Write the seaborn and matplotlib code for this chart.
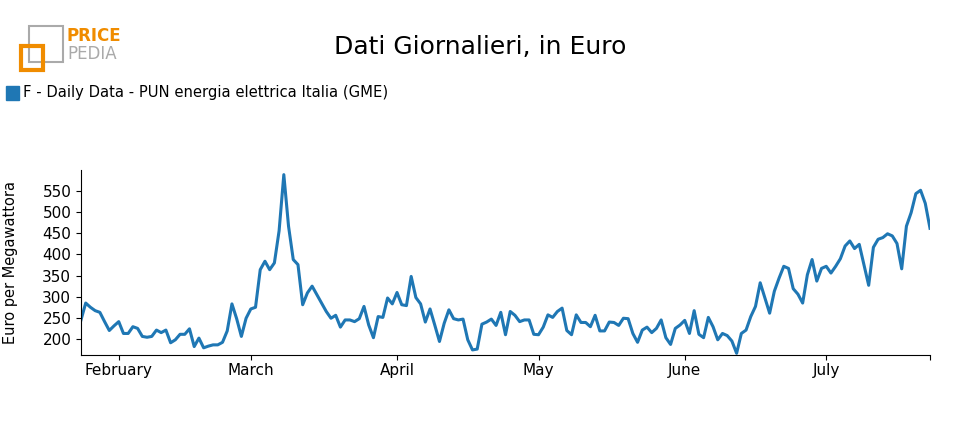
import numpy as np
import pandas as pd
import matplotlib
matplotlib.use("Agg")
import matplotlib.pyplot as plt
import matplotlib.dates as mdates
from matplotlib.patches import Rectangle
import seaborn as sns

start_date = "2022-01-24"
values = [245,285,275,267,263,241,220,231,241,213,213,229,225,206,204,206,221,215,221,191,
          198,211,211,224,182,202,179,183,186,186,192,219,283,248,206,249,271,275,364,384,
          364,380,456,589,467,388,376,281,309,325,305,285,265,249,256,228,245,245,241,248,
          277,233,203,253,251,297,283,310,281,279,348,298,283,240,271,233,194,237,269,248,
          245,247,198,174,176,235,240,247,232,263,210,265,256,241,245,245,211,210,228,257,
          251,265,273,220,210,257,239,239,229,256,219,219,240,239,232,249,248,213,192,221,
          228,215,225,245,203,187,225,233,244,213,267,211,203,251,229,198,213,208,195,166,
          213,221,253,277,333,297,261,313,344,372,367,319,306,285,352,388,337,367,372,356,
          372,390,420,432,414,424,376,327,417,436,440,449,444,426,366,467,499,544,552,521,462]
dates = pd.date_range(start_date, periods=len(values), freq="D")
df = pd.DataFrame({"date": dates, "value": values})
yticks = [200, 250, 300, 350, 400, 450, 500, 550]
title = "Dati Giornalieri, in Euro"
legend_label = "F - Daily Data - PUN energia elettrica Italia (GME)"
ylabel = "Euro per Megawattora"
color = "#1f77b4"

fig = plt.figure(figsize=(9.6, 4.3), dpi=100)
ax = fig.add_axes([81/960, 1-355/430, (930-81)/960, (355-170)/430])
sns.lineplot(data=df, x="date", y="value", ax=ax, color=color, linewidth=2.2)
ax.set_xlim(dates[0], dates[-1])
ax.set_ylim(162, 600)
ax.set_yticks(yticks)
ax.xaxis.set_major_locator(mdates.MonthLocator())
ax.xaxis.set_major_formatter(mdates.DateFormatter("%B"))
ax.set_xticks([dates[-1]], minor=True)
ax.tick_params(axis="x", which="minor", length=3.5, width=0.8)
ax.tick_params(axis="x", pad=2, labelsize=11)
ax.tick_params(axis="y", labelsize=11)
ax.set_xlabel("")
ax.set_ylabel("")
for s in ["top", "right"]:
    ax.spines[s].set_visible(False)
fig.text(11/960, 1-262/430, ylabel, rotation=90, ha="center", va="center", fontsize=10.5)
fig.text(480/960, 1-47/430, title, ha="center", va="center", fontsize=18)
fig.patches.append(Rectangle((6/960, 1-100/430), 13/960, 14/430, transform=fig.transFigure,
                             color=color, figure=fig))
fig.text(23/960, 1-93/430, legend_label, ha="left", va="center", fontsize=10.6)
# logo
fig.patches.append(Rectangle((29/960, 1-62/430), 34/960, 36/430, transform=fig.transFigure,
                             fill=False, edgecolor="#aaaaaa", lw=1.5, figure=fig))
fig.patches.append(Rectangle((21/960, 1-70/430), 22/960, 24/430, transform=fig.transFigure,
                             fill=False, edgecolor="#f08c00", lw=3, figure=fig))
fig.text(67/960, 1-36/430, "PRICE", color="#f08c00", fontsize=12, fontweight="bold", va="center")
fig.text(67/960, 1-54/430, "PEDIA", color="#aaaaaa", fontsize=12, va="center")
fig.savefig("out.png", dpi=100)
